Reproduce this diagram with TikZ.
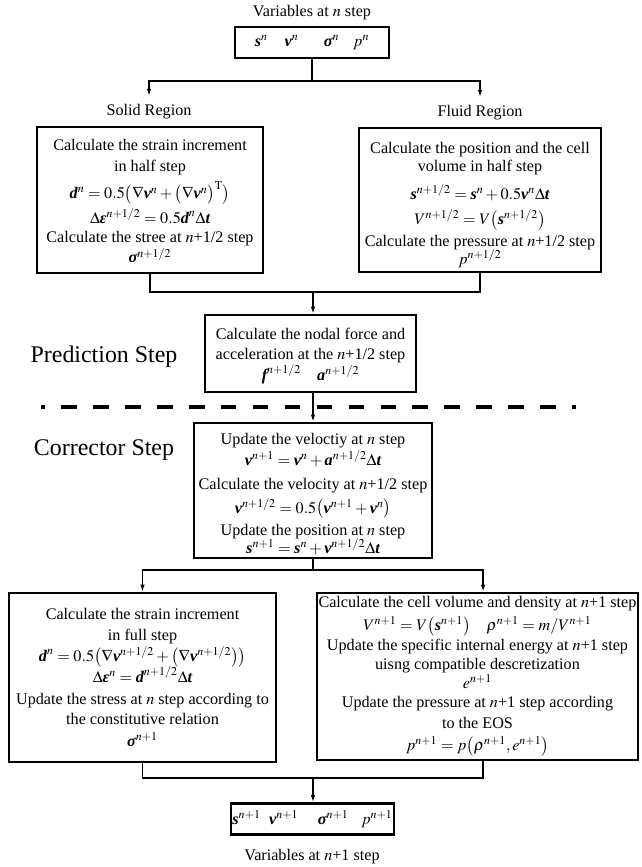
\documentclass[tikz,border=0pt]{standalone}
\usepackage{amsmath}
\usepackage{mathptmx}
\usepackage{fontspec}
\setmainfont{Liberation Serif}
\usepackage{tikz}
\usetikzlibrary{arrows.meta}
\newcommand{\boxfont}{\fontsize{11.5}{14.5}\selectfont}
\newcommand{\stepfont}{\fontsize{17}{20}\selectfont}
\newcommand{\bv}[1]{\text{\bfseries\itshape #1}}
\newcommand{\topgap}[1]{\rule{0pt}{#1}}
\tikzset{
  varbox/.style={draw, line width=1.8pt, minimum width=3.85cm, minimum height=0.775cm, inner sep=1pt, font=\boxfont},
  stepbox/.style={draw, line width=1.8pt, align=center, inner sep=1pt, font=\boxfont},
  region/.style={font=\boxfont, inner sep=6pt},
  varlabel/.style={font=\boxfont},
  stagelabel/.style={font=\stepfont},
  link/.style={line width=1.4pt},
  arrow/.style={-{Latex[length=5pt,width=3.2pt]}, line width=1.4pt},
  stageline/.style={line width=2.4pt, dash pattern=on 11pt off 11.7pt, dash phase=8.2pt}
}

\begin{document}
\begin{tikzpicture}[x=1cm,y=1cm]
  \useasboundingbox (0,0) rectangle (16.05,-21.675);

  \node[varlabel] (toplbl) at (7.8,-0.325) {Variables at $n$ step};
  \node[varbox] (varn) at (7.8,-1.0625) {$\bv{s}^{n}\hspace{12pt}\bv{v}^{n}\hspace{18pt}\bv{σ}^{n}\hspace{10pt}p^{n}$\hspace{8pt}};
  \coordinate (jtop) at (7.8,-2.025);

  \node[region] (solidlbl) at (3.725,-2.8) {Solid Region};
  \node[region] (fluidlbl) at (12.0,-2.825) {Fluid Region};
  \draw[link] (varn.south) -- (jtop);
  \draw[arrow] (jtop) -| (solidlbl.north);
  \draw[arrow] (jtop) -| (fluidlbl.north);

  \node[stepbox, minimum width=5.65cm, minimum height=3.65cm] (solid) at (3.75,-5.0) {\topgap{10pt}Calculate the strain increment\\
    in half step\\[4pt]
    $\bv{d}^{n}=0.5\bigl(\nabla\bv{v}^{n}+\bigl(\nabla\bv{v}^{n}\bigr)^{\mathrm{T}}\bigr)$\\[2pt]
    $\Delta\bv{ε}^{n+1/2}=0.5\bv{d}^{n}\Delta\bv{t}$\\[-1pt]
    Calculate the stree at $n$+1/2 step\\
    $\bv{σ}^{n+1/2}$};
  \node[stepbox, minimum width=6.05cm, minimum height=3.6cm] (fluid) at (12.0,-5.0) {\topgap{15pt}Calculate the position and the cell\\[-1.5pt]
    volume in half step\\[5.5pt]
    $\bv{s}^{n+1/2}=\bv{s}^{n}+0.5\bv{v}^{n}\Delta\bv{t}$\\[3pt]
    $V^{n+1/2}=V\bigl(\bv{s}^{n+1/2}\bigr)$\\[1.5pt]
    Calculate the pressure at $n$+1/2 step\\[-2pt]
    $p^{n+1/2}$};
  \coordinate (jpred) at (7.825,-7.3);
  \draw[link] (solid.south) |- (jpred) -| (fluid.south);

  \node[stepbox, minimum width=5.275cm, minimum height=1.925cm] (pred) at (7.7625,-8.8375) {\topgap{11.5pt}Calculate the nodal force and\\
    acceleration at the $n$+1/2 step\\
    $\bv{f}^{n+1/2}\quad\bv{a}^{n+1/2}$};
  \draw[arrow] (jpred) -- (jpred |- pred.north);
  \node[stagelabel] (predlbl) at (2.6,-8.925) {Prediction Step};

  \coordinate (sepL) at (1.025,-10.175);
  \coordinate (sepR) at (14.4,-10.175);
  \draw[stageline] (sepL) -- (sepR);

  \node[stepbox, minimum width=5.95cm, minimum height=3.375cm] (corr) at (7.825,-12.2625) {\topgap{13pt}Update the veloctiy at $n$ step\\
    $\bv{v}^{n+1}=\bv{v}^{n}+\bv{a}^{n+1/2}\Delta\bv{t}$\\[3pt]
    Calculate the velocity at $n$+1/2 step\\[2pt]
    $\bv{v}^{n+1/2}=0.5\bigl(\bv{v}^{n+1}+\bv{v}^{n}\bigr)$\\[1.5pt]
    Update the position at $n$ step\\[-2pt]
    $\bv{s}^{n+1}=\bv{s}^{n}+\bv{v}^{n+1/2}\Delta\bv{t}$};
  \draw[arrow] (corr.north |- pred.south) -- (corr.north);
  \node[stagelabel] (corrlbl) at (2.6,-11.25) {Corrector Step};

  \coordinate (jbot) at (7.825,-14.25);
  \node[stepbox, minimum width=6.675cm, minimum height=4.225cm] (lsolid) at (3.5625,-16.9375) {Calculate the strain increment\\
    in full step\\[0.5pt]
    $\bv{d}^{n}=0.5\bigl(\nabla\bv{v}^{n+1/2}+\bigl(\nabla\bv{v}^{n+1/2}\bigr)\bigr)$\\[-1pt]
    $\Delta\bv{ε}^{n}=\bv{d}^{n+1/2}\Delta\bv{t}$\\[1pt]
    Update the stress at $n$ step according to\\
    the constitutive relation\\[1pt]
    $\bv{σ}^{n+1}$};
  \node[stepbox, minimum width=8.025cm, minimum height=4.175cm, inner sep=0pt] (rfluid) at (11.9375,-16.9125) {Calculate the cell volume and density at $n$+1 step\\[1.5pt]
    $V^{n+1}=V\bigl(\bv{s}^{n+1}\bigr)\quad\rho^{n+1}=m/V^{n+1}$\\
    Update the specific internal energy at $n$+1 step\\[-1pt]
    uisng compatible descretization\\[-1pt]
    $e^{n+1}$\\[-1pt]
    Update the pressure at $n$+1 step according\\
    to the EOS\\[1.5pt]
    $p^{n+1}=p\bigl(\rho^{n+1},e^{n+1}\bigr)$};
  \draw[link] (corr.south) -- (jbot);
  \draw[arrow] (jbot) -| (lsolid.north);
  \draw[arrow] (jbot) -| ([xshift=0.14cm]rfluid.north);

  \coordinate (jend) at (7.825,-19.45);
  \draw[link] (lsolid.south) |- (jend) -| ([xshift=0.14cm]rfluid.south);
  \node[varbox] (varn1) at (7.8125,-20.475) {$\bv{s}^{n+1}\hspace{6pt}\bv{v}^{n+1}\hspace{14pt}\bv{σ}^{n+1}\hspace{9pt}p^{n+1}$};
  \draw[arrow] (jend) -- (jend |- varn1.north);
  \node[varlabel] (botlbl) at (7.8,-21.425) {Variables at $n$+1 step};
\end{tikzpicture}
\end{document}
